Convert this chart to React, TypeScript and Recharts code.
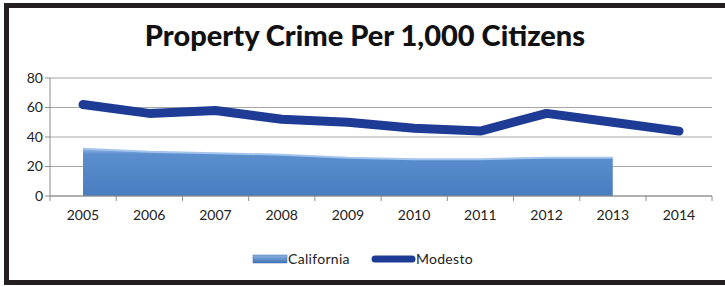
import { Area, CartesianGrid, ComposedChart, Line, XAxis, YAxis } from "recharts";

const YEARS = ["2005", "2006", "2007", "2008", "2009", "2010", "2011", "2012", "2013", "2014"];
const CALIFORNIA = [32, 30, 29, 28, 26, 25, 25, 26, 26, null];
const MODESTO = [62, 56, 58, 52, 50, 46, 44, 56, 50, 44];
const Y_TICKS = [0, 20, 40, 60, 80];

const data = YEARS.map((year, i) => ({ year, California: CALIFORNIA[i], Modesto: MODESTO[i] }));

const FONT = "Lato, 'Open Sans', sans-serif";
const INK = "#222";
const LINE = "#1e3c96";
const AXIS = "#8c8c8c";
const HALF_BAND = 33;

// Excel-style category axis: tick marks sit between the categories, labels centred.
function YearTick(props: any) {
  const { x, y, payload, index } = props;
  const last = index === YEARS.length - 1;
  return (
    <g>
      <line x1={x - HALF_BAND} y1={y - 8} x2={x - HALF_BAND} y2={y - 3} stroke={AXIS} />
      {last && <line x1={x + HALF_BAND} y1={y - 8} x2={x + HALF_BAND} y2={y - 3} stroke={AXIS} />}
      <text x={x} y={y + 16} textAnchor="middle" fontSize={14} fill={INK} fontFamily={FONT}>
        {payload.value}
      </text>
    </g>
  );
}

function LegendBox() {
  return (
    <div
      style={{
        position: "absolute", left: 0, top: 250, width: 725,
        display: "flex", justifyContent: "center", alignItems: "center",
        fontFamily: FONT, fontSize: 14, color: INK,
      }}
    >
      <svg width={36} height={12}>
        <defs>
          <linearGradient id="lg" x1="0" y1="0" x2="0" y2="1">
            <stop offset="0" stopColor="#8db4e2" />
            <stop offset="1" stopColor="#3f72b5" />
          </linearGradient>
        </defs>
        <rect x={1} y={2} width={34} height={8} fill="url(#lg)" stroke="#3a6aa8" strokeWidth={0.5} />
      </svg>
      <span style={{ marginRight: 20, letterSpacing: 0.3 }}>California</span>
      <svg width={46} height={12}>
        <line x1={5} y1={6} x2={42} y2={6} stroke={LINE} strokeWidth={7} strokeLinecap="round" />
      </svg>
      <span style={{ letterSpacing: 0.3 }}>Modesto</span>
    </div>
  );
}

export default function App() {
  return (
    <div style={{ position: "absolute", left: 0, top: 0, width: 725, height: 287, background: "#fff", overflow: "hidden" }}>
      {/* frame */}
      <div style={{ position: "absolute", left: 4, top: 3, width: 721, height: 5, background: "#231f20" }} />
      <div style={{ position: "absolute", left: 4, top: 3, width: 5, height: 282, background: "#231f20" }} />
      <div style={{ position: "absolute", left: 4, top: 280, width: 721, height: 5, background: "#231f20" }} />
      <div
        style={{
          position: "absolute", left: 0, top: 17, width: 730, textAlign: "center",
          fontFamily: FONT, fontWeight: 900, fontSize: 29, color: "#111",
        }}
      >
        Property Crime Per 1,000 Citizens
      </div>
      <ComposedChart
        width={725}
        height={287}
        data={data}
        margin={{ top: 78, right: 13, bottom: 61, left: 0 }}
        style={{ position: "absolute", left: 0, top: 0 }}
      >
        <defs>
          <linearGradient id="calFill" x1="0" y1="0" x2="0" y2="1">
            <stop offset="0" stopColor="#8ab2e2" />
            <stop offset="0.12" stopColor="#5b8ecd" />
            <stop offset="1" stopColor="#4a7dc0" />
          </linearGradient>
        </defs>
        <CartesianGrid stroke="#a6a6a6" vertical={false} />
        <XAxis
          dataKey="year"
          interval={0}
          height={30}
          padding={{ left: HALF_BAND, right: HALF_BAND }}
          axisLine={{ stroke: AXIS }}
          tickLine={false}
          tick={<YearTick />}
        />
        <YAxis
          width={50}
          domain={[0, 80]}
          ticks={Y_TICKS}
          axisLine={{ stroke: AXIS }}
          tickLine={{ stroke: AXIS }}
          tickSize={5}
          tick={{ fontSize: 14, fill: INK, fontFamily: FONT }}
        />
        <Area
          type="linear"
          dataKey="California"
          fill="url(#calFill)"
          fillOpacity={1}
          stroke="#a3c4ec"
          strokeWidth={2}
          isAnimationActive={false}
        />
        <Line
          type="linear"
          dataKey="Modesto"
          stroke={LINE}
          strokeWidth={9}
          strokeLinecap="round"
          strokeLinejoin="round"
          dot={false}
          isAnimationActive={false}
        />
      </ComposedChart>
      <LegendBox />
    </div>
  );
}
